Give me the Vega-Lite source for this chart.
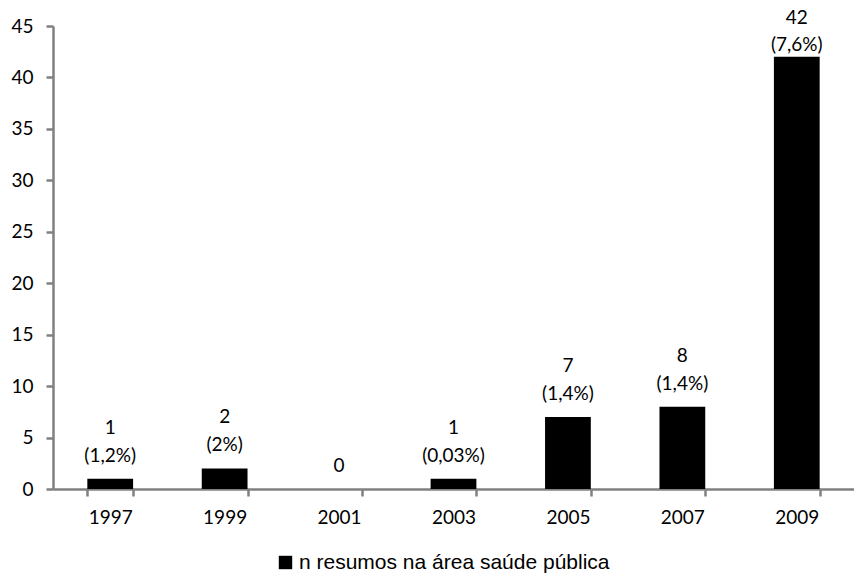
{
  "$schema": "https://vega.github.io/schema/vega-lite/v6.json",
  "width": 801,
  "height": 463,
  "autosize": {"type": "none"},
  "padding": {"left": 53, "top": 26, "right": 0, "bottom": 88},
  "background": "white",
  "data": {
    "values": [
      {"ano": "1997", "n": 1, "linha1": "1", "linha2": "(1,2%)", "serie": "n resumos na área saúde pública"},
      {"ano": "1999", "n": 2, "linha1": "2", "linha2": "(2%)", "serie": "n resumos na área saúde pública"},
      {"ano": "2001", "n": 0, "linha1": "", "linha2": "0", "serie": "n resumos na área saúde pública"},
      {"ano": "2003", "n": 1, "linha1": "1", "linha2": "(0,03%)", "serie": "n resumos na área saúde pública"},
      {"ano": "2005", "n": 7, "linha1": "7", "linha2": "(1,4%)", "serie": "n resumos na área saúde pública"},
      {"ano": "2007", "n": 8, "linha1": "8", "linha2": "(1,4%)", "serie": "n resumos na área saúde pública"},
      {"ano": "2009", "n": 42, "linha1": "42", "linha2": "(7,6%)", "serie": "n resumos na área saúde pública"}
    ]
  },
  "config": {
    "view": {"stroke": null},
    "axis": {
      "labelFont": "Lato",
      "labelFontSize": 19,
      "labelColor": "#000000",
      "domainColor": "#808080",
      "domainWidth": 2.5,
      "tickColor": "#808080",
      "tickWidth": 2.5,
      "tickSize": 7,
      "grid": false,
      "title": null
    }
  },
  "encoding": {
    "x": {
      "field": "ano",
      "type": "nominal",
      "sort": null,
      "scale": {"paddingInner": 0.6, "paddingOuter": 0.3},
      "axis": {"labelAngle": 0, "tickBand": "extent", "labelPadding": 12}
    },
    "y": {
      "field": "n",
      "type": "quantitative",
      "scale": {"domain": [0, 45], "nice": false},
      "axis": {"values": [0, 5, 10, 15, 20, 25, 30, 35, 40, 45], "labelPadding": 13}
    }
  },
  "layer": [
    {
      "mark": {"type": "bar", "stroke": null},
      "encoding": {
        "color": {
          "field": "serie",
          "type": "nominal",
          "scale": {"range": ["#000000"]},
          "legend": {
            "orient": "none",
            "legendX": 222,
            "legendY": 526,
            "title": null,
            "symbolType": "square",
            "symbolSize": 180,
            "symbolStrokeWidth": 0,
            "labelFont": "Liberation Sans",
            "labelFontSize": 21,
            "labelColor": "#000000",
            "labelOffset": 3,
            "labelLimit": 0
          }
        }
      }
    },
    {
      "transform": [{"filter": "datum.n < 40"}],
      "mark": {"type": "text", "baseline": "alphabetic", "dy": -17, "font": "Lato", "fontSize": 19, "fill": "#000000"},
      "encoding": {"text": {"field": "linha2"}}
    },
    {
      "transform": [{"filter": "datum.n < 40"}],
      "mark": {"type": "text", "baseline": "alphabetic", "dy": -45, "font": "Lato", "fontSize": 19, "fill": "#000000"},
      "encoding": {"text": {"field": "linha1"}}
    },
    {
      "transform": [{"filter": "datum.n >= 40"}],
      "mark": {"type": "text", "baseline": "alphabetic", "dy": -6, "font": "Lato", "fontSize": 19, "fill": "#000000"},
      "encoding": {"text": {"field": "linha2"}}
    },
    {
      "transform": [{"filter": "datum.n >= 40"}],
      "mark": {"type": "text", "baseline": "alphabetic", "dy": -33, "font": "Lato", "fontSize": 19, "fill": "#000000"},
      "encoding": {"text": {"field": "linha1"}}
    }
  ]
}
